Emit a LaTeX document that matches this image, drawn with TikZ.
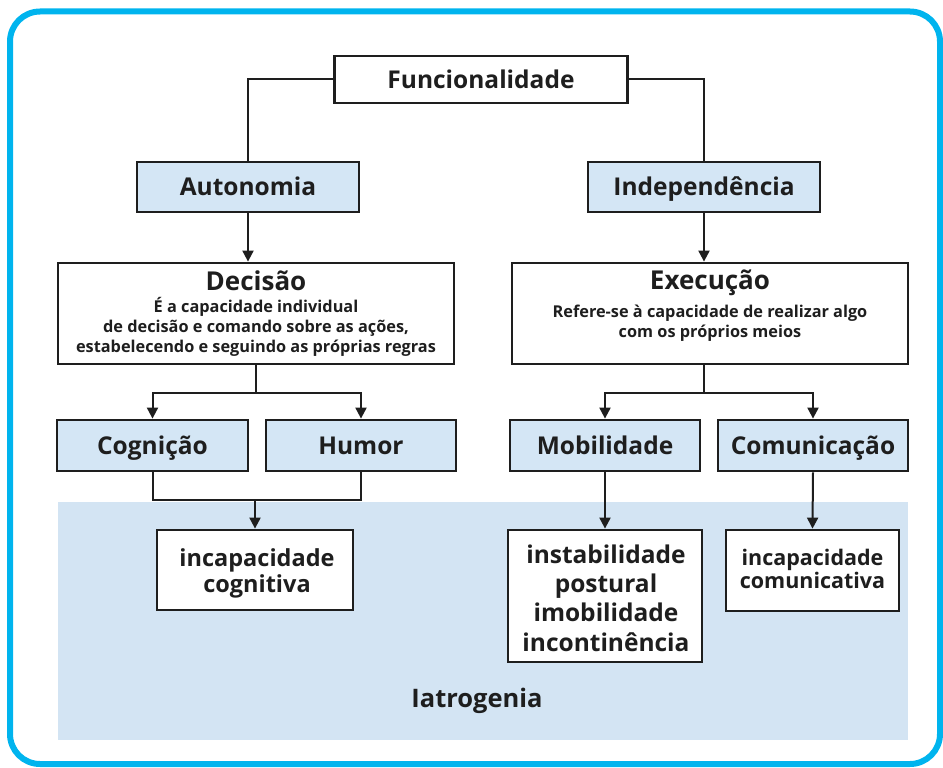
\documentclass[tikz,border=0pt]{standalone}
\usepackage{fontspec}
\setmainfont{Open Sans}
\usetikzlibrary{arrows.meta}
\definecolor{framecol}{RGB}{0,180,238}
\definecolor{boxblue}{RGB}{212,230,245}
\definecolor{regionblue}{RGB}{211,228,243}
\definecolor{ink}{RGB}{30,30,30}
\begin{document}
\begin{tikzpicture}[x=1pt,y=-1pt,
  box/.style={draw=ink,line width=2.8pt,inner sep=0pt,align=center,text=ink,
    font=\bfseries\fontsize{24.5}{28}\selectfont,text height=17.5pt,text depth=0pt},
  bluebox/.style={box,fill=boxblue},
  whitebox/.style={box,fill=white},
  ln/.style={text=ink,inner sep=0pt,anchor=base},
  big/.style={ln,font=\bfseries\fontsize{24.5}{28}\selectfont},
  title/.style={ln,font=\bfseries\fontsize{26}{28}\selectfont},
  small/.style={ln,font=\bfseries\fontsize{16.3}{19.5}\selectfont},
  conn/.style={draw=ink,line width=2pt},
  arr/.style={conn,-{Triangle[length=11pt,width=11pt]}}
]
\useasboundingbox (0,0) rectangle (943,768);
\draw[framecol,line width=6pt,rounded corners=30pt] (10,11.5) rectangle (940,764);
\fill[regionblue] (58,502) rectangle (908,740);
\node[title,font=\bfseries\fontsize{25.5}{28}\selectfont] (iat) at (477,707) {Iatrogenia};

\node[whitebox,minimum width=293pt,minimum height=47pt] (func) at (481,79.5) {Funcionalidade};
\node[bluebox,minimum width=222pt,minimum height=50pt] (aut) at (248,187) {Autonomia};
\node[bluebox,minimum width=232pt,minimum height=50pt] (ind) at (704,187) {Independência};

\node[whitebox,minimum width=396pt,minimum height=101pt] (dec) at (256,313.5) {};
\node[title] (dect) at (256,290) {Decisão};
\node[small] (dec1) at (256,312) {É a capacidade individual};
\node[small] (dec2) at (256,332) {de decisão e comando sobre as ações,};
\node[small] (dec3) at (256,352) {estabelecendo e seguindo as próprias regras};

\node[whitebox,minimum width=396pt,minimum height=101pt] (exe) at (710,313.5) {};
\node[title] (exet) at (710,289) {Execução};
\node[small] (exe1) at (710,317) {Refere-se à capacidade de realizar algo};
\node[small] (exe2) at (710,337) {com os próprios meios};

\node[bluebox,minimum width=191pt,minimum height=51pt] (cog) at (152.5,445.5) {Cognição};
\node[bluebox,minimum width=190pt,minimum height=51pt] (hum) at (361,445.5) {Humor};
\node[bluebox,minimum width=190pt,minimum height=51pt] (mob) at (605,445.5) {Mobilidade};
\node[bluebox,minimum width=190pt,minimum height=51pt] (com) at (813,445.5) {Comunicação};

\node[whitebox,minimum width=196pt,minimum height=80pt] (icog) at (255,570) {};
\node[ln,font=\bfseries\fontsize{23.5}{27}\selectfont] (icog1) at (257,566) {incapacidade};
\node[ln,font=\bfseries\fontsize{23.5}{27}\selectfont] (icog2) at (257,592) {cognitiva};

\node[whitebox,minimum width=194pt,minimum height=132pt] (inst) at (605,596) {};
\node[big] (inst1) at (606,563) {instabilidade};
\node[big] (inst2) at (606,592) {postural};
\node[big] (inst3) at (606,621.5) {imobilidade};
\node[big] (inst4) at (606,651) {incontinência};

\node[whitebox,minimum width=173pt,minimum height=81pt] (icom) at (812.5,570.5) {};
\node[ln,font=\bfseries\fontsize{21.5}{25}\selectfont] (icom1) at (812.5,565) {incapacidade};
\node[ln,font=\bfseries\fontsize{21.5}{25}\selectfont] (icom2) at (812.5,588) {comunicativa};

\draw[conn] (func.west) -| (aut.north);
\draw[conn] (func.east) -| (ind.north);
\draw[arr] (aut.south) -- (aut.south |- dec.north);
\draw[arr] (ind.south) -- (ind.south |- exe.north);

\coordinate (dsplit) at (dec.south |- 0,393);
\coordinate (esplit) at (exe.south -| ind.south);
\coordinate (esplit2) at (esplit |- 0,393);
\draw[conn] (dec.south) -- (dsplit);
\draw[arr] (dsplit) -| (cog.north);
\draw[arr] (dsplit) -| (hum.north);
\draw[conn] (esplit) -- (esplit2);
\draw[arr] (esplit2) -| (mob.north);
\draw[arr] (esplit2) -| (com.north);

\coordinate (cjoin) at (icog.north |- 0,500);
\draw[conn] (cog.south) |- (cjoin) -| (hum.south);
\draw[arr] (cjoin) -- (icog.north);
\draw[arr] (mob.south) -- (inst.north);
\draw[arr] (com.south) -- (icom.north);
\end{tikzpicture}
\end{document}
